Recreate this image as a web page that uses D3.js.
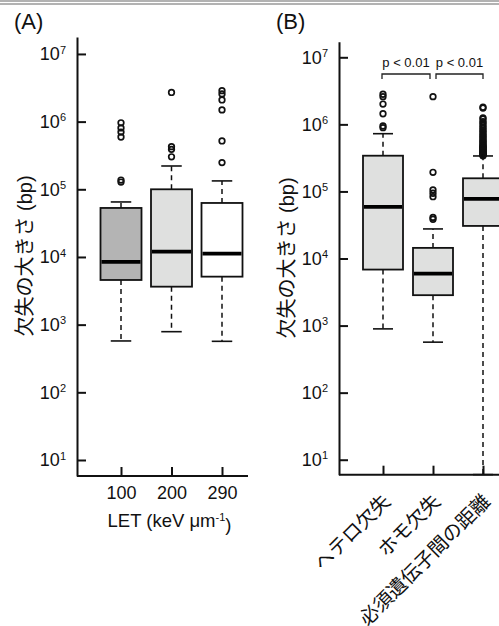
<!DOCTYPE html>
<html>
<head>
<meta charset="utf-8">
<script src="https://cdn.jsdelivr.net/npm/d3@7"></script>
<style>
  body { margin: 0; background: #fff; }
  text { font-family: "Liberation Sans", Arial, "Noto Sans CJK JP", sans-serif; fill: #111; }
</style>
</head>
<body>
<div id="chart"></div>
<script>
// Panel A: deletion size by LET
const letGroups = ["100", "200", "290"];
const letFill = ["#b4b4b4", "#dfe0df", "#ffffff"];
const letLower = [574, 787, 567];
const letQ1 = [4570, 3640, 5120];
const letMedian = [8440, 12000, 11200];
const letQ3 = [53000, 100000, 62800];
const letUpper = [65000, 221000, 133000];
const letOutliers = [
  [960000, 806000, 700000, 593000, 137000, 128000],
  [2700000, 427000, 389000, 302000],
  [2870000, 2570000, 2090000, 1490000, 518000, 248000],
];

// Panel B: hetero / homo deletions vs distance between essential genes
const delGroups = ["ヘテロ欠失", "ホモ欠失", "必須遺伝子間の距離"];
const delFill = ["#dfe0df", "#dfe0df", "#dfe0df"];
const delLower = [893, 566, 6];
const delQ1 = [6840, 2840, 30600];
const delMedian = [58700, 5960, 77300];
const delQ3 = [341000, 14400, 157000];
const delUpper = [726000, 27600, 338000];
const delOutliers = [
  [2810000, 2590000, 2010000, 1440000, 946000, 893000],
  [2590000, 193000, 105000, 94000, 83500, 41000, 38500],
  [1800000, 1750000, 1250000, 1200000, 1100000, 1050000, 980000, 920000,
    870000, 820000, 780000, 740000, 700000, 670000, 640000, 610000, 580000,
    560000, 540000, 520000, 500000, 480000, 470000, 460000, 450000, 440000,
    430000, 420000, 410000, 400000, 390000, 380000, 375000, 370000, 365000,
    360000, 355000, 350000, 345000, 340000],
];

const pLabels = ["p < 0.01", "p < 0.01"];
const yTicks = [1e1, 1e2, 1e3, 1e4, 1e5, 1e6, 1e7];

const W = 499;
const H = 626;

const svg = d3.select("#chart")
  .append("svg")
  .attr("width", W)
  .attr("height", H);

// double rule at the top
[1, 4].forEach(function(yy) {
  svg.append("line")
    .attr("x1", 0).attr("x2", W)
    .attr("y1", yy).attr("y2", yy)
    .attr("stroke", "#666")
    .attr("stroke-width", 1.2);
});

/**
 * Draw one box plot panel.
 * @param {*} o panel options and data
 */
function panel(o) {
  const g = svg.append("g");

  const y = d3.scaleLog().domain(o.yDomain).range([o.bottom, o.top]);
  const x = d3.scalePoint().domain(o.groups).range(o.xRange);

  // panel letter
  g.append("text")
    .attr("x", o.letterX)
    .attr("y", 29)
    .attr("font-size", "22px")
    .text(o.letter);

  // y axis
  const ya = g.append("g")
    .attr("transform", "translate(" + o.left + ",0)")
    .call(d3.axisLeft(y).tickValues(yTicks).tickSize(-9)
      .tickSizeOuter(0).tickPadding(11).tickFormat(""));
  ya.selectAll(".tick text").each(function(d) {
    const t = d3.select(this);
    t.text("10");
    t.append("tspan")
      .attr("dy", "-0.6em")
      .attr("font-size", "11px")
      .text(Math.round(Math.log10(d)));
  });

  // x axis
  const xa = g.append("g")
    .attr("transform", "translate(0," + o.bottom + ")")
    .call(d3.axisBottom(x).tickSize(-9).tickSizeOuter(0).tickPadding(10));
  xa.select(".domain").attr("d", "M" + o.left + ",0H" + o.right);

  [ya, xa].forEach(function(a) {
    a.attr("font-size", null).attr("font-family", null);
    a.selectAll("path, line").attr("stroke", "#111").attr("stroke-width", 2);
    a.selectAll("text").attr("font-size", "18px").attr("fill", "#111");
  });

  if (o.rotate) {
    xa.selectAll(".tick text")
      .attr("x", 0).attr("y", 0).attr("dy", 0)
      .attr("font-size", "19.5px")
      .attr("text-anchor", "end")
      .attr("transform", "translate(8,28) rotate(-45)");
  }

  // y label
  g.append("text")
    .attr("transform", "translate(" + o.yLabelX + "," + o.yLabelY + ") rotate(-90)")
    .attr("text-anchor", "middle")
    .attr("font-size", "20px")
    .text("欠失の大きさ (bp)");

  if (o.xTitle) {
    const xt = g.append("text")
      .attr("x", (x(o.groups[0]) + x(o.groups[2])) / 2 - 2)
      .attr("y", 527)
      .attr("text-anchor", "middle")
      .attr("font-size", "18.5px")
      .text("LET (keV μm");
    xt.append("tspan").attr("dy", "-0.55em").attr("font-size", "11px").text("-1");
    xt.append("tspan").attr("dy", "0.55em").text(")");
  }

  // boxes
  const bw = o.boxWidth;
  const idx = d3.range(o.groups.length);
  const box = g.append("g").selectAll("g")
    .data(idx)
    .enter()
    .append("g");

  // whiskers
  box.append("line")
    .attr("x1", (i) => x(o.groups[i])).attr("x2", (i) => x(o.groups[i]))
    .attr("y1", (i) => y(o.q3[i])).attr("y2", (i) => y(o.upper[i]))
    .attr("stroke", "#111").attr("stroke-width", 1.5)
    .attr("stroke-dasharray", "5,4");
  box.append("line")
    .attr("x1", (i) => x(o.groups[i])).attr("x2", (i) => x(o.groups[i]))
    .attr("y1", (i) => y(o.q1[i])).attr("y2", (i) => y(o.lower[i]))
    .attr("stroke", "#111").attr("stroke-width", 1.5)
    .attr("stroke-dasharray", "5,4");

  // caps
  ["upper", "lower"].forEach(function(k) {
    box.append("line")
      .attr("x1", (i) => x(o.groups[i]) - bw / 4)
      .attr("x2", (i) => x(o.groups[i]) + bw / 4)
      .attr("y1", (i) => y(o[k][i])).attr("y2", (i) => y(o[k][i]))
      .attr("stroke", "#111").attr("stroke-width", 1.6);
  });

  box.append("rect")
    .attr("x", (i) => x(o.groups[i]) - bw / 2)
    .attr("width", bw)
    .attr("y", (i) => y(o.q3[i]))
    .attr("height", (i) => y(o.q1[i]) - y(o.q3[i]))
    .attr("fill", (i) => o.fill[i])
    .attr("stroke", "#111")
    .attr("stroke-width", 1.8);

  box.append("line")
    .attr("x1", (i) => x(o.groups[i]) - bw / 2 + 1)
    .attr("x2", (i) => x(o.groups[i]) + bw / 2 - 1)
    .attr("y1", (i) => y(o.median[i])).attr("y2", (i) => y(o.median[i]))
    .attr("stroke", "#000").attr("stroke-width", 3.8);

  // outliers
  box.each(function(i) {
    d3.select(this).selectAll("circle")
      .data(o.outliers[i])
      .enter()
      .append("circle")
      .attr("cx", x(o.groups[i]))
      .attr("cy", (d) => y(d))
      .attr("r", 2.8)
      .attr("fill", "none")
      .attr("stroke", "#111")
      .attr("stroke-width", 1.7);
  });

  // significance brackets
  if (o.pairs) {
    o.pairs.forEach(function(p, j) {
      const x1 = x(o.groups[p[0]]) + p[2];
      const x2 = x(o.groups[p[1]]) + p[3];
      g.append("path")
        .attr("d", "M" + x1 + ",79V74H" + x2 + "V79")
        .attr("fill", "none")
        .attr("stroke", "#222")
        .attr("stroke-width", 1.3);
      g.append("text")
        .attr("x", (x1 + x2) / 2)
        .attr("y", 66.5)
        .attr("text-anchor", "middle")
        .attr("font-size", "13px")
        .text(pLabels[j]);
    });
  }
}

panel({
  letter: "(A)", letterX: 14,
  groups: letGroups, fill: letFill,
  lower: letLower, q1: letQ1, median: letMedian, q3: letQ3, upper: letUpper,
  outliers: letOutliers,
  yDomain: [5.8, 1.78e7], top: 37, bottom: 476,
  left: 77, right: 248, xRange: [121, 222], boxWidth: 41,
  yLabelX: 32, yLabelY: 256, xTitle: true,
});

panel({
  letter: "(B)", letterX: 276,
  groups: delGroups, fill: delFill,
  lower: delLower, q1: delQ1, median: delMedian, q3: delQ3, upper: delUpper,
  outliers: delOutliers,
  yDomain: [5.98, 1.708e7], top: 41.7, bottom: 474.7,
  left: 339, right: W, xRange: [383, 483], boxWidth: 40,
  yLabelX: 294, yLabelY: 258, rotate: true,
  pairs: [[0, 1, -1, -3], [1, 2, 3, 0]],
});
</script>
</body>
</html>
